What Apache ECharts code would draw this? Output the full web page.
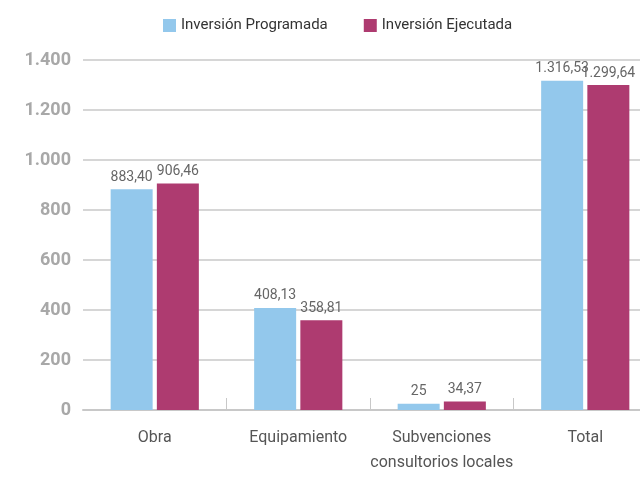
<!DOCTYPE html>
<html>
<head>
<meta charset="utf-8">
<script src="https://cdn.jsdelivr.net/npm/echarts@6/dist/echarts.min.js"></script>
<style>
  html, body { margin: 0; padding: 0; background: #fff; }
  #chart { width: 640px; height: 478px; }
</style>
</head>
<body>
<div id="chart"></div>
<script>
var categories = ['Obra', 'Equipamiento', 'Subvenciones\nconsultorios locales', 'Total'];
var seriesNames = ['Inversión Programada', 'Inversión Ejecutada'];
var programada = [883.40, 408.13, 25, 1316.53];
var ejecutada = [906.46, 358.81, 34.37, 1299.64];
var colores = ['#93c8ec', '#ae3b70'];

// formato es: 1.316,53
function formatoEs(v, decimales) {
    var partes = v.toFixed(decimales).split('.');
    var entero = partes[0].replace(/\B(?=(\d{3})+(?!\d))/g, '.');
    return partes.length > 1 ? entero + ',' + partes[1] : entero;
}

function etiqueta(p) {
    var v = p.value;
    return Number.isInteger(v) ? formatoEs(v, 0) : formatoEs(v, 2);
}

var myChart = echarts.init(document.getElementById('chart'));

var fuente = 'Roboto, "Noto Sans", sans-serif';

var option = {
    animation: false,
    textStyle: { fontFamily: fuente },
    color: colores,
    legend: {
        left: 158,
        top: 13,
        itemWidth: 13,
        itemHeight: 13,
        itemGap: 36,
        icon: 'rect',
        textStyle: { fontSize: 15, color: '#333', fontFamily: fuente },
        data: seriesNames
    },
    grid: {
        left: 83, top: 60, right: -17, bottom: 68,
        containLabel: false,
        outerBoundsMode: 'none'
    },
    xAxis: {
        type: 'category',
        data: categories,
        axisLine: { lineStyle: { color: '#c8c8c8', width: 2 } },
        axisTick: {
            show: true,
            inside: true,
            length: 12,
            interval: function (i) { return i > 0; },
            lineStyle: { color: '#c8c8c8', width: 1 }
        },
        axisLabel: {
            interval: 0,
            fontSize: 16,
            color: '#555',
            margin: 15,
            lineHeight: 25,
            fontFamily: fuente
        }
    },
    yAxis: {
        type: 'value',
        min: 0,
        max: 1400,
        interval: 200,
        axisLine: { show: false },
        axisTick: { show: false },
        splitLine: { lineStyle: { color: '#c8c8c8', width: 1.5 } },
        axisLabel: {
            fontSize: 18,
            fontWeight: 'bold',
            color: '#a8a8a8',
            margin: 12,
            fontFamily: fuente,
            formatter: function (v) { return formatoEs(v, 0); }
        }
    },
    labelLayout: { moveOverlap: 'shiftX' },
    series: [
        {
            name: seriesNames[0],
            type: 'bar',
            data: programada,
            barWidth: 42,
            barGap: '10%',
            label: {
                show: true,
                position: 'top',
                distance: 5,
                fontSize: 14,
                color: '#666',
                fontFamily: fuente,
                formatter: etiqueta
            },
            labelLayout: { moveOverlap: 'shiftX' }
        },
        {
            name: seriesNames[1],
            type: 'bar',
            data: ejecutada,
            barWidth: 42,
            label: {
                show: true,
                position: 'top',
                distance: 5,
                fontSize: 14,
                color: '#666',
                fontFamily: fuente,
                formatter: etiqueta
            },
            labelLayout: { moveOverlap: 'shiftX' }
        }
    ]
};

myChart.setOption(option);
</script>
</body>
</html>
